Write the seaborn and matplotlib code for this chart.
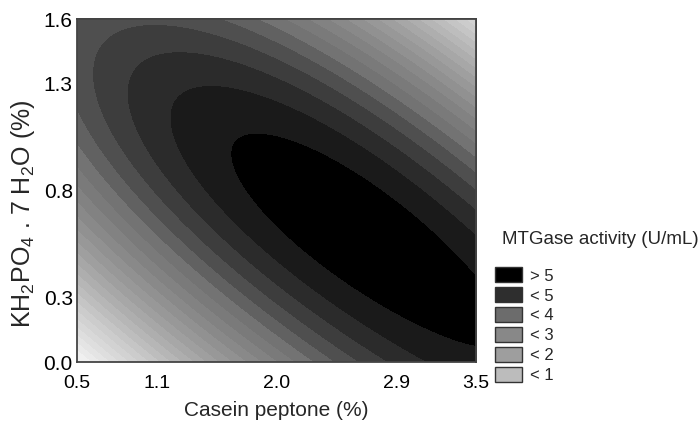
import numpy as np
import matplotlib
matplotlib.use("Agg")
import matplotlib.pyplot as plt
import seaborn as sns
from matplotlib.patches import Patch

# fitted response model written along its principal axes (coded units)
stationary_point = [0.68, -0.39]   # coded casein, coded KH2PO4
max_activity = 5.15                # U/mL at the stationary point
major_axis_angle = -40.0           # degrees, coded space
curv_major = 0.074                 # p^2 term
cubic_major = 0.009                # p^3 term
curv_minor = 0.85                  # q^2 term

# design levels
casein_ticks = [0.5, 1.1, 2.0, 2.9, 3.5]
kh2po4_ticks = [0.0, 0.3, 0.8, 1.3, 1.6]
casein_center, casein_step = 2.0, 0.9
kh2po4_center, kh2po4_step = 0.8, 0.5

legend_labels = ["> 5", "< 5", "< 4", "< 3", "< 2", "< 1"]
legend_colors = ["#000000", "#2e2e2e", "#6c6c6c", "#888888", "#9e9e9e", "#bcbcbc"]

# grey shade of each band, counted outwards from the "> 5" region
band_index = [1, 6, 18, 24, 32]
band_grey = [0.10, 0.45, 0.80, 0.94, 0.97]

sns.set_theme(style="white")
plt.rcParams["font.family"] = ["Liberation Sans", "DejaVu Sans"]
plt.rcParams["mathtext.fontset"] = "custom"
plt.rcParams["mathtext.rm"] = "Liberation Sans"
plt.rcParams["mathtext.it"] = "Liberation Sans"
plt.rcParams["mathtext.default"] = "regular"

fig = plt.figure(figsize=(7, 4.23), dpi=100)
ax = fig.add_axes([0.110, 0.144, 0.570, 0.811])

x = np.linspace(0.5, 3.5, 400)
y = np.linspace(0.0, 1.6, 400)
X, Y = np.meshgrid(x, y)
du = (X - casein_center) / casein_step - stationary_point[0]
dv = (Y - kh2po4_center) / kh2po4_step - stationary_point[1]
th = np.deg2rad(major_axis_angle)
p = du * np.cos(th) + dv * np.sin(th)
q = -du * np.sin(th) + dv * np.cos(th)
Z = max_activity - curv_major * p**2 + cubic_major * p**3 - curv_minor * q**2

step = 0.2
n_bands = 45
levels = [5.0 - step * k for k in range(n_bands, -1, -1)] + [Z.max() + 1]
colors = [str(float(np.interp(n, band_index, band_grey)))
          for n in range(n_bands, 0, -1)] + ["0.0"]
cs = ax.contourf(X, Y, Z, levels=levels, colors=colors)
cs.set_edgecolor("face")
cs.set_linewidth(0.5)

ax.set_xlim(0.5, 3.5)
ax.set_ylim(0.0, 1.6)
ax.set_xticks(casein_ticks)
ax.set_xticklabels([f"{v:.1f}" for v in casein_ticks])
ax.set_yticks(kh2po4_ticks)
ax.set_yticklabels([f"{v:.1f}" for v in kh2po4_ticks])
ax.tick_params(direction="in", length=4, width=1, colors="#222222", labelcolor="black")
ax.tick_params(axis="x", labelsize=14, pad=9)
ax.tick_params(axis="y", labelsize=15, pad=3)

top = ax.secondary_xaxis("top")
top.set_xticks(np.arange(0.875, 3.2, 0.375))
top.tick_params(direction="in", length=4, width=1, colors="#222222", labeltop=False)
right = ax.secondary_yaxis("right")
right.set_yticks(np.arange(0.2, 1.5, 0.2))
right.tick_params(direction="in", length=4, width=1, colors="#222222", labelright=False)

for sp in ax.spines.values():
    sp.set_color("#444444")
    sp.set_linewidth(1.3)
    sp.set_visible(True)

ax.set_xlabel("Casein peptone (%)", fontsize=15, labelpad=7)
ax.set_ylabel(r"KH$_2$PO$_4$ . 7 H$_2$O (%)", fontsize=18)
ax.yaxis.set_label_coords(-0.10, 0.431)

fig.text(0.717, 0.433, "MTGase activity (U/mL)", fontsize=13.5, va="center", ha="left")
handles = [Patch(facecolor=c, edgecolor="#333333", linewidth=1) for c in legend_colors]
fig.legend(handles, legend_labels, loc="upper left", bbox_to_anchor=(0.707, 0.368),
           frameon=False, fontsize=12, handlelength=1.62, handleheight=1.02,
           handletextpad=0.5, labelspacing=0.22, borderpad=0, borderaxespad=0)

fig.savefig("out.png", dpi=100)
